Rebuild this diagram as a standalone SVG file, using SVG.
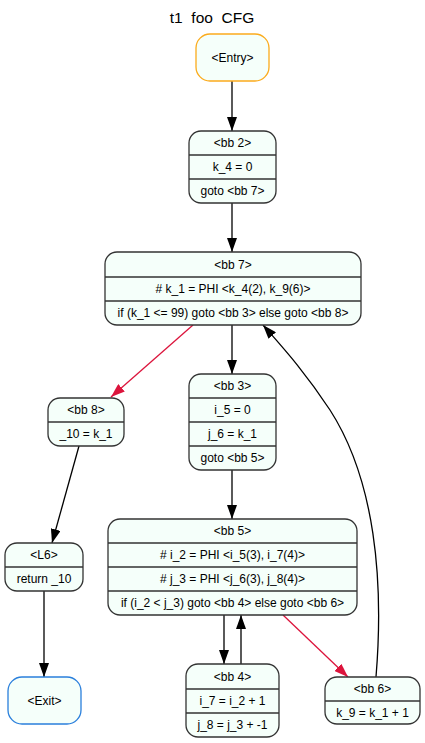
<svg xmlns="http://www.w3.org/2000/svg" width="425" height="743" viewBox="0 0 425 743">
<style>
.n{fill:#f5fffa;stroke:#333;stroke-width:1.3}
.d{stroke:#333;stroke-width:1.3}
.t{font-family:"Liberation Sans",Arial,sans-serif;font-size:12px;fill:#000;text-anchor:middle}
.e{fill:none;stroke:#000;stroke-width:1.3}
.r{fill:none;stroke:#dc143c;stroke-width:1.3}
</style>
<defs>
<marker id="ak" markerUnits="userSpaceOnUse" markerWidth="14" markerHeight="10" refX="14" refY="5" orient="auto"><path d="M0,0L14,5L0,10z" fill="#000"/></marker>
<marker id="ar" markerUnits="userSpaceOnUse" markerWidth="14" markerHeight="10" refX="14" refY="5" orient="auto"><path d="M0,0L14,5L0,10z" fill="#dc143c"/></marker>
</defs>
<rect width="425" height="743" fill="#fff"/>
<text x="212" y="23" style="font-family:'Liberation Sans',Arial,sans-serif;font-size:15.5px;text-anchor:middle;white-space:pre" xml:space="preserve">t1  foo  CFG</text>
<g id="edges">
<path class="e" d="M232,81V131" marker-end="url(#ak)"/>
<path class="e" d="M232,203V252" marker-end="url(#ak)"/>
<path class="e" d="M232,325V374" marker-end="url(#ak)"/>
<path class="r" d="M193,325L111,397" marker-end="url(#ar)"/>
<path class="e" d="M79,446L52,543" marker-end="url(#ak)"/>
<path class="e" d="M44,591V677" marker-end="url(#ak)"/>
<path class="e" d="M232,470V519" marker-end="url(#ak)"/>
<path class="e" d="M224,615V664" marker-end="url(#ak)"/>
<path class="e" d="M241,664V615" marker-end="url(#ak)"/>
<path class="r" d="M283,615L348,677" marker-end="url(#ar)"/>
<path class="e" d="M376,677C384,580 375,480 330,410C305,372 285,350 263,325" marker-end="url(#ak)"/>
</g>
<g id="entry">
<rect x="196" y="34" width="73" height="47" rx="14" fill="#f5fffa" stroke="#fbab1c" stroke-width="1.3"/>
<text class="t" x="232.5" y="61.5">&lt;Entry&gt;</text>
</g>
<g id="bb2">
<rect class="n" x="189" y="131" width="87" height="72" rx="12"/>
<path class="d" d="M189,155H276M189,179H276"/>
<text class="t" x="232.5" y="147">&lt;bb 2&gt;</text>
<text class="t" x="232.5" y="171">k_4 = 0</text>
<text class="t" x="232.5" y="195">goto &lt;bb 7&gt;</text>
</g>
<g id="bb7">
<rect class="n" x="105" y="252" width="256" height="73" rx="12"/>
<path class="d" d="M105,277H361M105,301H361"/>
<text class="t" x="233" y="268.5">&lt;bb 7&gt;</text>
<text class="t" x="233" y="293"># k_1 = PHI &lt;k_4(2), k_9(6)&gt;</text>
<text class="t" x="233" y="317">if (k_1 &lt;= 99) goto &lt;bb 3&gt; else goto &lt;bb 8&gt;</text>
</g>
<g id="bb3">
<rect class="n" x="189" y="374" width="87" height="96" rx="12"/>
<path class="d" d="M189,398H276M189,422H276M189,446H276"/>
<text class="t" x="232.5" y="390">&lt;bb 3&gt;</text>
<text class="t" x="232.5" y="414">i_5 = 0</text>
<text class="t" x="232.5" y="438">j_6 = k_1</text>
<text class="t" x="232.5" y="462">goto &lt;bb 5&gt;</text>
</g>
<g id="bb8">
<rect class="n" x="48" y="398" width="76" height="48" rx="12"/>
<path class="d" d="M48,422H124"/>
<text class="t" x="86" y="414">&lt;bb 8&gt;</text>
<text class="t" x="86" y="438">_10 = k_1</text>
</g>
<g id="bb5">
<rect class="n" x="108" y="519" width="249" height="96" rx="12"/>
<path class="d" d="M108,543H357M108,567H357M108,591H357"/>
<text class="t" x="232.5" y="535">&lt;bb 5&gt;</text>
<text class="t" x="232.5" y="559"># i_2 = PHI &lt;i_5(3), i_7(4)&gt;</text>
<text class="t" x="232.5" y="583"># j_3 = PHI &lt;j_6(3), j_8(4)&gt;</text>
<text class="t" x="232.5" y="607">if (i_2 &lt; j_3) goto &lt;bb 4&gt; else goto &lt;bb 6&gt;</text>
</g>
<g id="L6">
<rect class="n" x="5" y="543" width="78" height="48" rx="12"/>
<path class="d" d="M5,567H83"/>
<text class="t" x="44" y="559">&lt;L6&gt;</text>
<text class="t" x="44" y="583">return _10</text>
</g>
<g id="exit">
<rect x="8" y="677" width="73" height="47" rx="14" fill="#f5fffa" stroke="#2a7fdc" stroke-width="1.3"/>
<text class="t" x="44.5" y="704.5">&lt;Exit&gt;</text>
</g>
<g id="bb4">
<rect class="n" x="186" y="664" width="93" height="73" rx="12"/>
<path class="d" d="M186,689H279M186,713H279"/>
<text class="t" x="232.5" y="680.5">&lt;bb 4&gt;</text>
<text class="t" x="232.5" y="705">i_7 = i_2 + 1</text>
<text class="t" x="232.5" y="729">j_8 = j_3 + -1</text>
</g>
<g id="bb6">
<rect class="n" x="325" y="677" width="95" height="47" rx="12"/>
<path class="d" d="M325,701H420"/>
<text class="t" x="372.5" y="693">&lt;bb 6&gt;</text>
<text class="t" x="372.5" y="716.5">k_9 = k_1 + 1</text>
</g>
</svg>
